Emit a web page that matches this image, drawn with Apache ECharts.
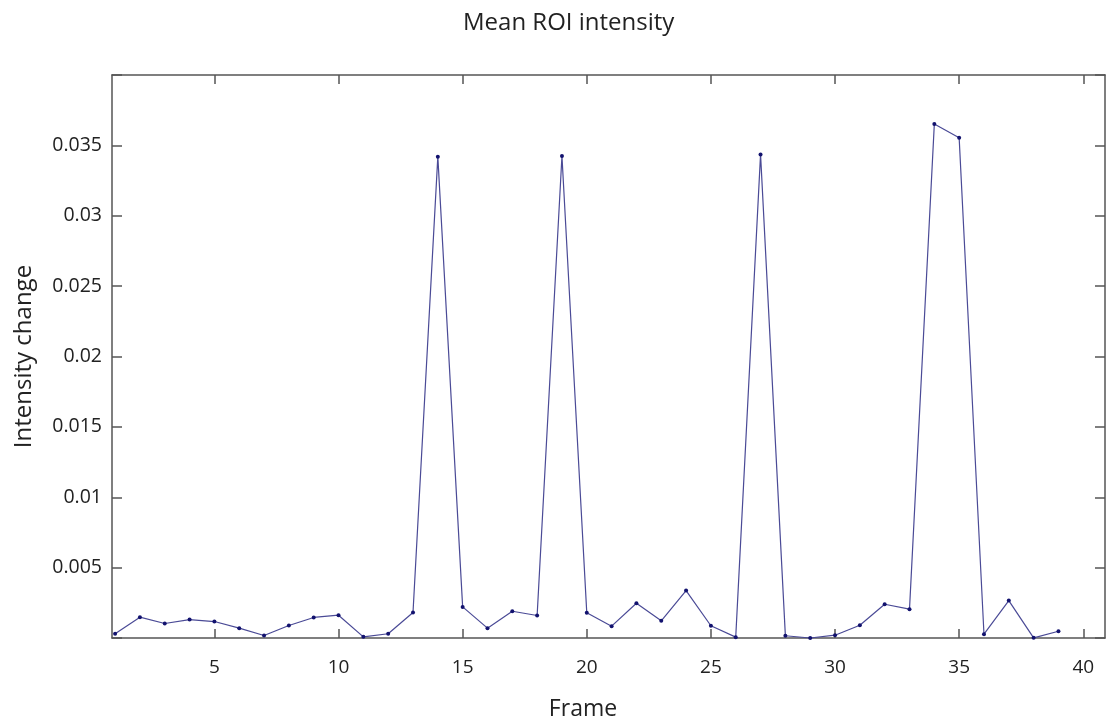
<!DOCTYPE html>
<html>
<head>
<meta charset="utf-8">
<script src="https://cdn.jsdelivr.net/npm/echarts@6/dist/echarts.min.js"></script>
<style>
html,body{margin:0;padding:0;background:#fff;}
#chart{width:1108px;height:723px;}
</style>
</head>
<body>
<div id="chart"></div>
<script>
const frames = [1,2,3,4,5,6,7,8,9,10,11,12,13,14,15,16,17,18,19,20,21,22,23,24,25,26,27,28,29,30,31,32,33,34,35,36,37,38,39];
const intensity = [0.0003,0.00148,0.00103,0.00131,0.00117,0.0007,0.00018,0.00089,0.00146,0.00162,
  0.00008,0.0003,0.00181,0.0342,0.00221,0.0007,0.0019,0.0016,0.03425,0.00179,
  0.00084,0.00247,0.00122,0.00337,0.00087,0.00006,0.03436,0.00016,0.0,0.0002,
  0.00091,0.0024,0.00205,0.03652,0.03554,0.00027,0.00266,0.00001,0.00048];
const xTicks = [5,10,15,20,25,30,35,40];
const titleText = 'Mean ROI intensity';
const xName = 'Frame';
const yName = 'Intensity change';

const FONT = '"Open Sans", sans-serif';
const axisCol = '#555555';
const chart = echarts.init(document.getElementById('chart'));
const yFmt = v => (v <= 0 || v >= 0.0399) ? '' : String(+v.toFixed(3));

chart.setOption({
  animation: false,
  backgroundColor: '#ffffff',
  title: {
    text: titleText, left: 463, top: 11, padding: 0,
    textStyle: {fontFamily: FONT, fontSize: 24, fontWeight: 'normal', color: '#222'}
  },
  grid: {left: 112, right: 3, top: 75, bottom: 85, containLabel: false, outerBoundsMode: 'none'},
  xAxis: [{
    type: 'value', min: 0.875, max: 40.875, position: 'bottom',
    name: xName, nameLocation: 'middle', nameGap: 60,
    nameTextStyle: {fontFamily: FONT, fontSize: 23, color: '#222', padding: [0, 51, 0, 0]},
    axisLine: {show: true, onZero: false, lineStyle: {color: axisCol, width: 1.5}},
    axisTick: {show: true, inside: true, length: 9, customValues: xTicks, lineStyle: {color: axisCol, width: 1.5}},
    axisLabel: {show: true, customValues: xTicks, margin: 20, fontFamily: FONT, fontSize: 19, color: '#222'},
    splitLine: {show: false}
  }, {
    type: 'value', min: 0.875, max: 40.875, position: 'top',
    axisLine: {show: true, onZero: false, lineStyle: {color: axisCol, width: 1.5}},
    axisTick: {show: true, inside: true, length: 9, customValues: xTicks, lineStyle: {color: axisCol, width: 1.5}},
    axisLabel: {show: false},
    splitLine: {show: false}
  }],
  yAxis: [{
    type: 'value', min: 0, max: 0.04, interval: 0.005, position: 'left',
    name: yName, nameLocation: 'middle', nameGap: 76, nameRotate: 90,
    nameTextStyle: {fontFamily: FONT, fontSize: 24, color: '#222'},
    axisLine: {show: true, onZero: false, lineStyle: {color: axisCol, width: 1.5}},
    axisTick: {show: true, inside: true, length: 10, lineStyle: {color: axisCol, width: 1.5}},
    axisLabel: {show: true, margin: 10, fontFamily: FONT, fontSize: 19.5, color: '#222', formatter: yFmt},
    splitLine: {show: false}
  }, {
    type: 'value', min: 0, max: 0.04, interval: 0.005, position: 'right',
    axisLine: {show: true, onZero: false, lineStyle: {color: axisCol, width: 1.5}},
    axisTick: {show: true, inside: true, length: 10, lineStyle: {color: axisCol, width: 1.5}},
    axisLabel: {show: false},
    splitLine: {show: false}
  }],
  series: [{
    type: 'line',
    xAxisIndex: 0, yAxisIndex: 0,
    data: frames.map((f, i) => [f, intensity[i]]),
    symbol: 'circle', symbolSize: 4,
    lineStyle: {color: '#4a4a96', width: 1.2},
    itemStyle: {color: '#12126e'},
    clip: false
  }]
});
</script>
</body>
</html>
